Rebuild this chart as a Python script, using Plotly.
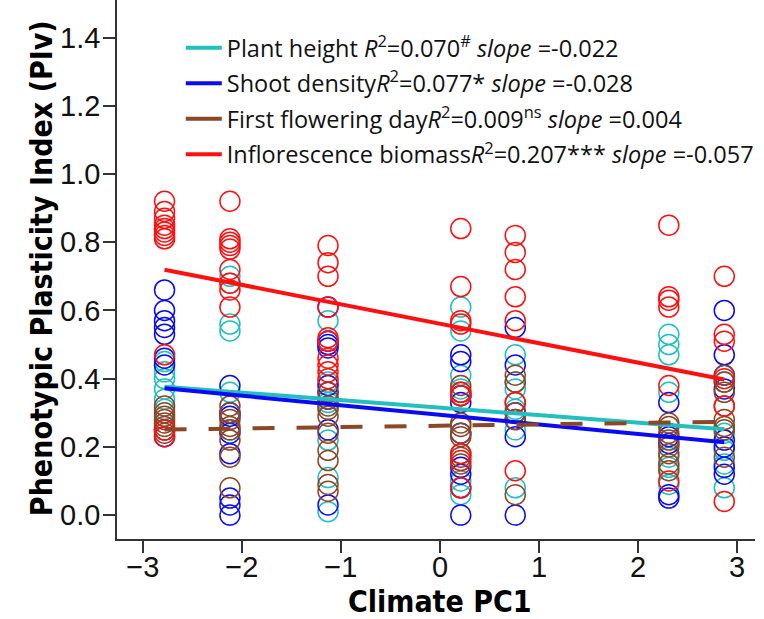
import plotly.graph_objects as go

# ---- data ----
climate_pc1 = [-2.78, -2.12, -1.13, 0.21, 0.76, 2.31, 2.87]

plant_height = [
    [0.45, 0.42, 0.40, 0.37, 0.34, 0.31],
    [0.70, 0.68, 0.56, 0.54, 0.36, 0.25],
    [0.57, 0.39, 0.33, 0.22, 0.11, 0.01],
    [0.61, 0.54, 0.41, 0.37, 0.10, 0.06],
    [0.47, 0.39, 0.37, 0.31, 0.25, 0.08],
    [0.53, 0.50, 0.47, 0.36, 0.17, 0.14, 0.09],
    [0.39, 0.24, 0.19, 0.15, 0.08],
]
shoot_density = [
    [0.66, 0.60, 0.57, 0.55, 0.53, 0.46, 0.44, 0.25, 0.23],
    [0.38, 0.30, 0.29, 0.24, 0.18, 0.05, 0.03, 0.00],
    [0.61, 0.51, 0.50, 0.49, 0.38, 0.36, 0.34, 0.25, 0.03],
    [0.47, 0.45, 0.35, 0.33, 0.24, 0.14, 0.12, 0.08, 0.00],
    [0.55, 0.44, 0.30, 0.28, 0.23, 0.00],
    [0.33, 0.23, 0.21, 0.06, 0.05],
    [0.60, 0.47, 0.41, 0.37, 0.22, 0.20, 0.14, 0.12],
]
first_flowering = [
    [0.32, 0.30, 0.29, 0.28, 0.27, 0.26, 0.25, 0.24],
    [0.32, 0.30, 0.28, 0.26, 0.25, 0.22, 0.17, 0.08],
    [0.36, 0.34, 0.32, 0.31, 0.29, 0.24, 0.19, 0.16, 0.09, 0.07],
    [0.38, 0.36, 0.35, 0.27, 0.26, 0.24, 0.23, 0.18, 0.17, 0.15],
    [0.41, 0.39, 0.33, 0.30, 0.28, 0.06],
    [0.27, 0.26, 0.24, 0.22, 0.20, 0.18, 0.15, 0.13],
    [0.41, 0.39, 0.36, 0.32, 0.28, 0.26, 0.25, 0.17],
]
inflorescence = [
    [0.92, 0.89, 0.87, 0.85, 0.84, 0.83, 0.82, 0.81, 0.47, 0.25, 0.23],
    [0.92, 0.81, 0.80, 0.79, 0.78, 0.72, 0.68, 0.66, 0.61],
    [0.79, 0.74, 0.70, 0.61, 0.52, 0.51, 0.46, 0.44, 0.42, 0.40],
    [0.84, 0.67, 0.57, 0.56, 0.36, 0.35, 0.18, 0.16, 0.08],
    [0.82, 0.77, 0.72, 0.64, 0.57, 0.33, 0.13],
    [0.85, 0.64, 0.63, 0.61, 0.38, 0.10],
    [0.70, 0.53, 0.51, 0.40, 0.32, 0.04],
]

trait_names = ["Plant height", "Shoot density", "First flowering day", "Inflorescence biomass"]
r2_values = ["0.070", "0.077", "0.009", "0.207"]
r2_marks = ["<sup>#</sup>", "*", "<sup>ns</sup>", "***"]
slope_labels = ["-0.022", "-0.028", "0.004", "-0.057"]
slopes = [-0.022, -0.028, 0.004, -0.057]
intercepts = [0.315, 0.294, 0.262, 0.561]
name_gap = [" ", "", "", ""]

y_tick_values = [0, 0.2, 0.4, 0.6, 0.8, 1.0, 1.2, 1.4]
y_tick_labels = ["0.0", "0.2", "0.4", "0.6", "0.8", "1.0", "1.2", "1.4"]
x_tick_values = [-3, -2, -1, 0, 1, 2, 3]
x_tick_labels = ["\u22123", "\u22122", "\u22121", "0", "1", "2", "3"]

colors = ["#22BFBF", "#0A0AF5", "#8B4726", "#FF1010"]
dashes = ["solid", "solid", "22px,22px", "solid"]
all_series = [plant_height, shoot_density, first_flowering, inflorescence]

fig = go.Figure()

# scatter points
for series, col in zip(all_series, colors):
    xs, ys = [], []
    for xv, vals in zip(climate_pc1, series):
        for v in vals:
            xs.append(xv)
            ys.append(v)
    fig.add_trace(go.Scatter(
        x=xs, y=ys, mode="markers", showlegend=False,
        marker=dict(symbol="circle-open", size=20, color=col, line=dict(width=1.5, color=col)),
        hoverinfo="skip"))

# regression lines
x0, x1 = min(climate_pc1), max(climate_pc1)
for a, b, col, d in zip(intercepts, slopes, colors, dashes):
    fig.add_trace(go.Scatter(
        x=[x0, x1], y=[a + b * x0, a + b * x1], mode="lines", showlegend=False,
        line=dict(color=col, width=4, dash=d), hoverinfo="skip"))

# legend entries
for i, (nm, r2, mk, sl, col) in enumerate(zip(trait_names, r2_values, r2_marks, slope_labels, colors)):
    label = f"{nm}{name_gap[i]}<i>R</i><sup>2</sup>={r2}{mk} <i>slope</i> ={sl}"
    fig.add_trace(go.Scatter(
        x=[None], y=[None], mode="lines", name=label, legendgroup=f"g{i}",
        line=dict(color=col, width=4)))

tick_font = dict(family="Liberation Sans, Arial, sans-serif", size=29, color="#111")
title_font = dict(family="Liberation Sans Narrow, DejaVu Sans Condensed, Arial Narrow, sans-serif",
                  size=30, color="#000")

fig.update_layout(
    width=764, height=619,
    margin=dict(l=117, r=9, t=0, b=80, autoexpand=False),
    plot_bgcolor="white", paper_bgcolor="white",
    showlegend=True,
    legend=dict(x=0.100, y=0.952, xanchor="left", yanchor="top",
                bgcolor="rgba(0,0,0,0)", borderwidth=0,
                font=dict(family="Open Sans, Noto Sans, sans-serif", size=23.5, color="#111"),
                tracegroupgap=2, itemwidth=36),
    xaxis=dict(range=[-3.26, 3.18], tickvals=x_tick_values, ticktext=x_tick_labels,
               showgrid=False, zeroline=False, showline=True, linecolor="#333", linewidth=1.5,
               ticks="outside", ticklen=12, tickwidth=1.5, tickcolor="#333",
               tickfont=tick_font, automargin=False, ticklabelstandoff=-11),
    yaxis=dict(range=[-0.07, 1.51], tickvals=y_tick_values, ticktext=y_tick_labels,
               showgrid=False, zeroline=False, showline=True, linecolor="#333", linewidth=1.5,
               ticks="outside", ticklen=12, tickwidth=1.5, tickcolor="#333",
               tickfont=tick_font, automargin=False, ticklabelstandoff=-3),
    annotations=[
        dict(text="<b>Climate PC1</b>", xref="paper", yref="paper", x=0.506, y=-0.116,
             xanchor="center", yanchor="middle", showarrow=False, font=title_font),
        dict(text="<b>Phenotypic Plasticity Index (PIv)</b>", xref="paper", yref="paper",
             x=-0.118, y=0.502, xanchor="center", yanchor="middle", textangle=-90,
             showarrow=False, font=title_font),
    ],
)

fig.write_html("out.html", config={"displayModeBar": False},
               post_script="document.body.style.margin='0';")
